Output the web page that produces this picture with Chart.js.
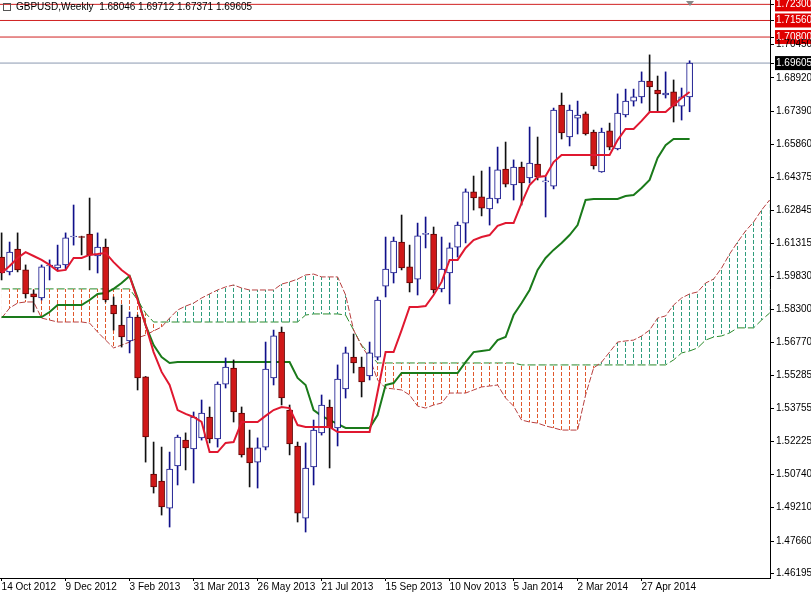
<!DOCTYPE html>
<html><head><meta charset="utf-8">
<script src="https://cdn.jsdelivr.net/npm/chart.js@4"></script>
<style>html,body{margin:0;padding:0;background:#fff}#c{display:block}</style>
</head><body>
<div style="width:811px;height:592px"><canvas id="c"></canvas></div>
<script>
const titleText = "GBPUSD,Weekly  1.68046 1.69712 1.67371 1.69605";
const dateLabels = ["14 Oct 2012","9 Dec 2012","3 Feb 2013","31 Mar 2013","26 May 2013","21 Jul 2013","15 Sep 2013","10 Nov 2013","5 Jan 2014","2 Mar 2014","27 Apr 2014"];
const priceTicks = [1.72300,1.71560,1.70800,1.70450,1.69605,1.68920,1.67390,1.65860,1.64375,1.62845,1.61315,1.59830,1.58300,1.56770,1.55285,1.53755,1.52225,1.50740,1.49210,1.47660,1.46195];
const levelLines = [1.72300,1.71560,1.70800];
const lastPrice = 1.69605;

const opens = [1.6070,1.6002,1.6107,1.6011,1.5901,1.5882,1.6029,1.6020,1.6034,1.6162,1.6164,1.6176,1.6075,1.6116,1.5850,1.5758,1.5685,1.5795,1.5520,1.5074,1.5042,1.4918,1.5111,1.5230,1.5189,1.5240,1.5336,1.5235,1.5487,1.5561,1.5354,1.5194,1.5129,1.5198,1.5515,1.5726,1.5368,1.5203,1.4872,1.5107,1.5263,1.5382,1.5286,1.5465,1.5611,1.5565,1.5524,1.5611,1.5937,1.5997,1.6139,1.6025,1.5969,1.6174,1.6176,1.5924,1.5997,1.6116,1.6226,1.6369,1.6346,1.6291,1.6337,1.6474,1.6401,1.6483,1.6433,1.6497,1.6415,1.6396,1.6768,1.6621,1.6708,1.6727,1.6644,1.6461,1.6649,1.6566,1.6722,1.6786,1.6805,1.6878,1.6837,1.6814,1.6828,1.6763,1.68046];
const highs = [1.6181,1.6139,1.6181,1.6034,1.5919,1.6034,1.6057,1.6125,1.6181,1.6309,1.6166,1.6341,1.6181,1.6153,1.5887,1.5850,1.5818,1.5804,1.5522,1.5221,1.5198,1.5175,1.5253,1.5263,1.5359,1.5414,1.5382,1.5497,1.5607,1.5598,1.5382,1.5276,1.5240,1.5680,1.5735,1.5749,1.5391,1.5221,1.5217,1.5322,1.5437,1.5414,1.5575,1.5657,1.5717,1.5611,1.5680,1.5887,1.6162,1.6162,1.6263,1.6125,1.6226,1.6254,1.6208,1.6162,1.6135,1.6231,1.6383,1.6442,1.6465,1.6483,1.6575,1.6598,1.6516,1.6506,1.6667,1.6621,1.6438,1.6754,1.6823,1.6768,1.6786,1.6736,1.6653,1.6662,1.6685,1.6819,1.6841,1.6841,1.6920,1.6998,1.6901,1.6920,1.6883,1.6846,1.69712];
const lows = [1.5965,1.5988,1.6002,1.5882,1.5818,1.5873,1.5965,1.6011,1.6011,1.6125,1.6080,1.6011,1.5997,1.5864,1.5735,1.5657,1.5630,1.5460,1.5129,1.4987,1.4886,1.4831,1.5024,1.5093,1.5033,1.5230,1.5217,1.5198,1.5469,1.5313,1.5152,1.5015,1.5010,1.5185,1.5483,1.5391,1.5162,1.4854,1.4808,1.5024,1.5253,1.5102,1.5203,1.5423,1.5538,1.5428,1.5506,1.5598,1.5887,1.5951,1.6011,1.5910,1.5896,1.6112,1.5905,1.5910,1.5855,1.6070,1.6135,1.6286,1.6259,1.6217,1.6318,1.6392,1.6332,1.6309,1.6410,1.6424,1.6254,1.6383,1.6612,1.6580,1.6635,1.6630,1.6474,1.6459,1.6562,1.6562,1.6713,1.6763,1.6777,1.6736,1.6736,1.6800,1.6690,1.6699,1.67371];
const closes = [1.5997,1.6093,1.6011,1.5901,1.5887,1.6025,1.6031,1.6034,1.6158,1.6164,1.6160,1.6080,1.6116,1.5873,1.5809,1.5703,1.5795,1.5515,1.5244,1.5015,1.4923,1.5097,1.5244,1.5194,1.5336,1.5354,1.5235,1.5487,1.5565,1.5359,1.5162,1.5125,1.5194,1.5556,1.5708,1.5423,1.5212,1.4895,1.5102,1.5276,1.5391,1.5286,1.5510,1.5630,1.5584,1.5497,1.5630,1.5873,1.6015,1.6144,1.6020,1.5951,1.6167,1.6177,1.5919,1.6015,1.6112,1.6217,1.6369,1.6341,1.6295,1.6341,1.6470,1.6405,1.6483,1.6410,1.6502,1.6438,1.6417,1.6745,1.6640,1.6745,1.6722,1.6635,1.6488,1.6644,1.6575,1.6731,1.6786,1.6805,1.6878,1.6851,1.6819,1.6823,1.6763,1.6805,1.69605];

const tenkan = [1.5997,1.6029,1.6066,1.6093,1.6075,1.6057,1.6034,1.6006,1.6011,1.6066,1.6066,1.6080,1.6084,1.6089,1.6047,1.6011,1.5983,1.5873,1.5758,1.5634,1.5543,1.5483,1.5368,1.5350,1.5336,1.5313,1.5175,1.5175,1.5217,1.5221,1.5313,1.5313,1.5313,1.5341,1.5368,1.5382,1.5377,1.5299,1.5290,1.5290,1.5290,1.5290,1.5267,1.5267,1.5267,1.5267,1.5267,1.5451,1.5634,1.5634,1.5735,1.5841,1.5841,1.5845,1.5896,1.5956,1.6057,1.6057,1.6112,1.6148,1.6162,1.6171,1.6213,1.6226,1.6226,1.6318,1.6401,1.6438,1.6442,1.6506,1.6539,1.6539,1.6539,1.6539,1.6539,1.6539,1.6539,1.6607,1.6658,1.6658,1.6695,1.6736,1.6736,1.6736,1.6768,1.6800,1.6828];
const kijun = [1.5795,1.5795,1.5795,1.5795,1.5795,1.5795,1.5818,1.5850,1.5850,1.5850,1.5850,1.5873,1.5901,1.5905,1.5924,1.5951,1.5983,1.5882,1.5758,1.5666,1.5611,1.5584,1.5588,1.5588,1.5588,1.5588,1.5588,1.5588,1.5588,1.5588,1.5588,1.5588,1.5588,1.5588,1.5588,1.5588,1.5588,1.5515,1.5483,1.5368,1.5341,1.5322,1.5304,1.5286,1.5286,1.5286,1.5286,1.5345,1.5483,1.5492,1.5538,1.5538,1.5538,1.5538,1.5538,1.5538,1.5538,1.5538,1.5588,1.5634,1.5639,1.5644,1.5689,1.5703,1.5804,1.5859,1.5919,1.6011,1.6066,1.6103,1.6135,1.6171,1.6217,1.6332,1.6337,1.6337,1.6337,1.6337,1.6350,1.6355,1.6387,1.6424,1.6525,1.6584,1.6612,1.6612,1.6612];
const spanA = [1.5790,1.5836,1.5859,1.5864,1.5864,1.5790,1.5781,1.5772,1.5772,1.5772,1.5772,1.5767,1.5726,1.5689,1.5653,1.5666,1.5680,1.5699,1.5712,1.5731,1.5749,1.5790,1.5827,1.5845,1.5859,1.5882,1.5901,1.5919,1.5933,1.5942,1.5928,1.5919,1.5919,1.5919,1.5919,1.5946,1.5956,1.5969,1.5988,1.5992,1.5979,1.5979,1.5979,1.5896,1.5735,1.5662,1.5607,1.5506,1.5469,1.5465,1.5460,1.5437,1.5386,1.5377,1.5391,1.5400,1.5446,1.5446,1.5446,1.5460,1.5474,1.5478,1.5483,1.5423,1.5386,1.5322,1.5313,1.5308,1.5295,1.5286,1.5276,1.5276,1.5276,1.5437,1.5561,1.5588,1.5634,1.5680,1.5685,1.5689,1.5708,1.5735,1.5790,1.5800,1.5850,1.5882,1.5901,1.5910,1.5951,1.5969,1.6020,1.6084,1.6139,1.6190,1.6231,1.6286,1.6332];
const spanB = [1.5924,1.5924,1.5924,1.5924,1.5924,1.5924,1.5924,1.5924,1.5924,1.5924,1.5924,1.5924,1.5924,1.5924,1.5924,1.5924,1.5924,1.5873,1.5813,1.5772,1.5772,1.5772,1.5772,1.5772,1.5772,1.5772,1.5772,1.5772,1.5772,1.5772,1.5772,1.5772,1.5772,1.5772,1.5772,1.5772,1.5772,1.5772,1.5804,1.5809,1.5809,1.5809,1.5809,1.5804,1.5735,1.5666,1.5625,1.5584,1.5584,1.5584,1.5584,1.5584,1.5584,1.5584,1.5584,1.5584,1.5584,1.5584,1.5584,1.5584,1.5584,1.5584,1.5584,1.5584,1.5584,1.5575,1.5575,1.5575,1.5575,1.5575,1.5575,1.5575,1.5575,1.5575,1.5575,1.5575,1.5575,1.5575,1.5575,1.5575,1.5575,1.5575,1.5575,1.5575,1.5598,1.5630,1.5639,1.5653,1.5689,1.5703,1.5708,1.5722,1.5745,1.5745,1.5745,1.5781,1.5813];

function hatch(color){
  const p=document.createElement('canvas');p.width=8;p.height=6;
  const g=p.getContext('2d');g.fillStyle=color;g.fillRect(1,0,1,4);
  return g.createPattern(p,'repeat');
}
const bull = opens.map((o,i)=>closes[i]>=o);
const xy = arr => arr.map((v,i)=>({x:i,y:v}));
const hline = v => [{x:-1,y:v},{x:98,y:v}];

const overlay = {
  id:'overlay',
  afterDraw(chart){
    const c=chart.ctx;
    c.save();
    c.font='10px "Liberation Sans", Arial, sans-serif';
    c.fillStyle='#000';c.textBaseline='top';c.textAlign='left';
    c.fillText(titleText,16,2);
    c.strokeStyle='#555';c.strokeRect(3.5,3.5,7,7);
    c.fillStyle='#888';c.beginPath();c.moveTo(686,1);c.lineTo(694,1);c.lineTo(690,6);c.fill();
    c.restore();
  }
};

const tickFont={family:'"Liberation Sans", Arial, sans-serif',size:10};
new Chart(document.getElementById('c'),{
  data:{datasets:[
    {type:'line',data:xy(spanA),borderColor:'#b84040',borderWidth:1,borderDash:[6,2],pointRadius:0,
     fill:{target:'+1',above:hatch('#2f9c7c'),below:hatch('#e0582c')},order:10},
    {type:'line',data:xy(spanB),borderColor:'#2a8a2a',borderWidth:1,borderDash:[8,3],pointRadius:0,fill:false,order:10},
    ...levelLines.map(v=>({type:'line',data:hline(v),borderColor:'#d02020',borderWidth:1,pointRadius:0,order:9})),
    {type:'line',data:hline(lastPrice),borderColor:'#8a98b0',borderWidth:1,pointRadius:0,order:9},
    {type:'line',data:xy(kijun),borderColor:'#1a7a1a',borderWidth:2,pointRadius:0,tension:0,order:5},
    {type:'bar',data:lows.map((l,i)=>({x:i,y:[l,highs[i]]})),barThickness:1,grouped:false,
     backgroundColor:bull.map(b=>b?'#10108a':'#101010'),borderWidth:0,order:3},
    {type:'bar',data:opens.map((o,i)=>({x:i,y:[o,closes[i]]})),barThickness:6,grouped:false,minBarLength:1,
     backgroundColor:bull.map(b=>b?'#ffffff':'#d01818'),borderColor:bull.map(b=>b?'#10108a':'#600000'),
     borderWidth:1,borderSkipped:false,order:2},
    {type:'line',data:xy(tenkan),borderColor:'#e01830',borderWidth:2,pointRadius:0,tension:0,order:1}
  ]},
  options:{
    responsive:true,maintainAspectRatio:false,animation:false,
    layout:{padding:0},
    plugins:{legend:{display:false},tooltip:{enabled:false}},
    scales:{
      x:{type:'linear',min:-0.2,max:96.05,offset:false,
        grid:{display:true,drawOnChartArea:false,color:'#000',tickLength:3,offset:false},
        border:{color:'#000'},
        afterBuildTicks(s){s.ticks=dateLabels.map((d,i)=>({value:i*8}));},
        afterFit(s){s.height=14;s.paddingLeft=0;s.paddingRight=0;},
        ticks:{autoSkip:false,maxRotation:0,align:'start',padding:0,font:tickFont,color:'#000',
          callback:(v)=>dateLabels[Math.round(v/8)]||''}},
      y:{type:'linear',position:'right',min:1.4597,max:1.7250,
        grid:{display:true,drawOnChartArea:false,color:'#000',tickLength:4},
        border:{color:'#000'},
        afterBuildTicks(s){s.ticks=priceTicks.map(v=>({value:v}));},
        afterFit(s){s.width=41;s.paddingTop=0;s.paddingBottom=0;},
        ticks:{autoSkip:false,font:tickFont,padding:2,
          callback:v=>v.toFixed(5),
          color:ctx=>(levelLines.includes(ctx.tick.value)||ctx.tick.value===lastPrice)?'#fff':'#000',
          showLabelBackdrop:ctx=>levelLines.includes(ctx.tick.value)||ctx.tick.value===lastPrice,
          backdropColor:ctx=>ctx.tick.value===lastPrice?'#000':'#e00000',
          backdropPadding:1}}
    }
  },
  plugins:[overlay]
});
</script>
</body></html>
